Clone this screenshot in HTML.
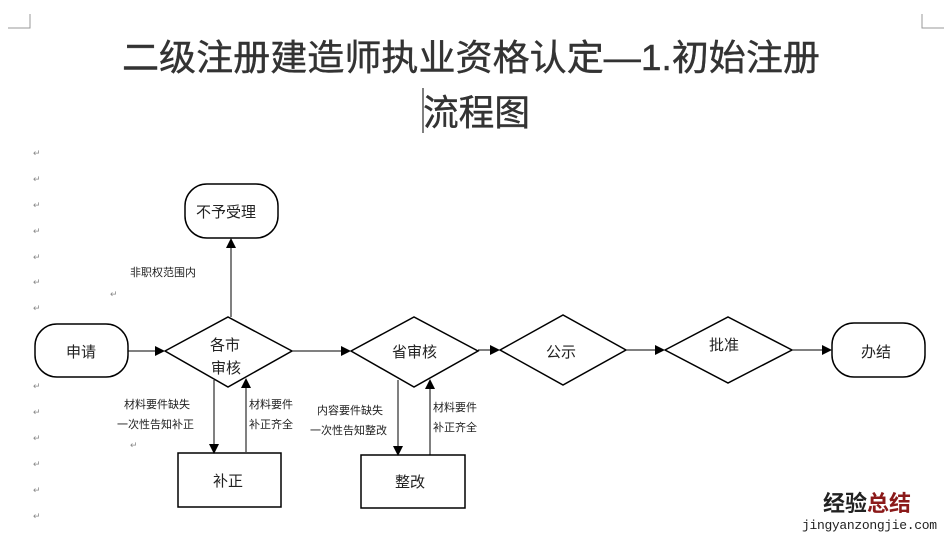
<!DOCTYPE html>
<html><head><meta charset="utf-8"><style>
html,body{margin:0;padding:0;background:#fff;}
svg{display:block;}
</style></head><body>
<svg width="952" height="541" viewBox="0 0 952 541" xmlns="http://www.w3.org/2000/svg" font-family="Liberation Sans, Noto Sans CJK SC, sans-serif">
<defs><marker id="a" markerWidth="10" markerHeight="10" refX="9" refY="5" orient="auto" markerUnits="userSpaceOnUse"><path d="M0,0 L10,5 L0,10 Z" fill="#000"/></marker></defs>
<g stroke="#999" fill="none" stroke-width="1">
<path d="M8,28 H30 V14"/><path d="M944,28 H922 V14"/>
</g>
<text x="122" y="70" font-size="36" fill="#333" stroke="#333" stroke-width="0.4" textLength="698" lengthAdjust="spacingAndGlyphs">二级注册建造师执业资格认定—1.初始注册</text>
<text x="423" y="125" font-size="36" fill="#333" stroke="#333" stroke-width="0.4" textLength="107" lengthAdjust="spacingAndGlyphs">流程图</text>
<line x1="423" y1="88" x2="423" y2="133" stroke="#000"/>
<g font-size="9" fill="#888">
<text x="33" y="156">↵</text><text x="33" y="182">↵</text><text x="33" y="208">↵</text><text x="33" y="234">↵</text><text x="33" y="260">↵</text><text x="33" y="285">↵</text><text x="33" y="311">↵</text><text x="33" y="389">↵</text><text x="33" y="415">↵</text><text x="33" y="441">↵</text><text x="33" y="467">↵</text><text x="33" y="493">↵</text><text x="33" y="519">↵</text><text x="110" y="297">↵</text><text x="130" y="448">↵</text>
</g>
<g stroke="#000" stroke-width="1.5" fill="#fff">
<rect x="185" y="184" width="93" height="54" rx="22"/>
<rect x="35" y="324" width="93" height="53" rx="22"/>
<rect x="832" y="323" width="93" height="54" rx="22"/>
<polygon points="165,351 228,317 292,351 228,387"/>
<polygon points="351,351 414,317 478,351 414,387"/>
<polygon points="500,350 563,315 626,350 563,385"/>
<polygon points="665,350 728,317 792,350 728,383"/>
<rect x="178" y="453" width="103" height="54"/>
<rect x="361" y="455" width="104" height="53"/>
</g>
<g stroke="#000" stroke-width="1" marker-end="url(#a)">
<line x1="231" y1="317" x2="231" y2="239"/>
<line x1="128" y1="351" x2="164" y2="351"/>
<line x1="292" y1="351" x2="350" y2="351"/>
<line x1="478" y1="350" x2="499" y2="350"/>
<line x1="626" y1="350" x2="664" y2="350"/>
<line x1="792" y1="350" x2="831" y2="350"/>
<line x1="214" y1="380" x2="214" y2="453"/>
<line x1="246" y1="452" x2="246" y2="379"/>
<line x1="398" y1="380" x2="398" y2="455"/>
<line x1="430" y1="455" x2="430" y2="380"/>
</g>
<g font-size="15" fill="#222">
<text x="196" y="217">不予受理</text>
<text x="66" y="357">申请</text>
<text x="210" y="350">各市</text>
<text x="211" y="373">审核</text>
<text x="392" y="357">省审核</text>
<text x="546" y="357">公示</text>
<text x="709" y="350">批准</text>
<text x="861" y="357">办结</text>
<text x="213" y="486">补正</text>
<text x="395" y="487">整改</text>
</g>
<g font-size="11" fill="#222">
<text x="130" y="276">非职权范围内</text>
<text x="124" y="408">材料要件缺失</text>
<text x="117" y="428">一次性告知补正</text>
<text x="249" y="408">材料要件</text>
<text x="249" y="428">补正齐全</text>
<text x="317" y="414">内容要件缺失</text>
<text x="310" y="434">一次性告知整改</text>
<text x="433" y="411">材料要件</text>
<text x="433" y="431">补正齐全</text>
</g>
<text x="823" y="511" font-size="22" font-weight="bold" fill="#222">经验<tspan fill="#8b1a1a">总结</tspan></text>
<text x="802" y="529" font-size="13" fill="#222" font-family="Liberation Mono, monospace" textLength="135">jingyanzongjie.com</text>
</svg>
</body></html>
